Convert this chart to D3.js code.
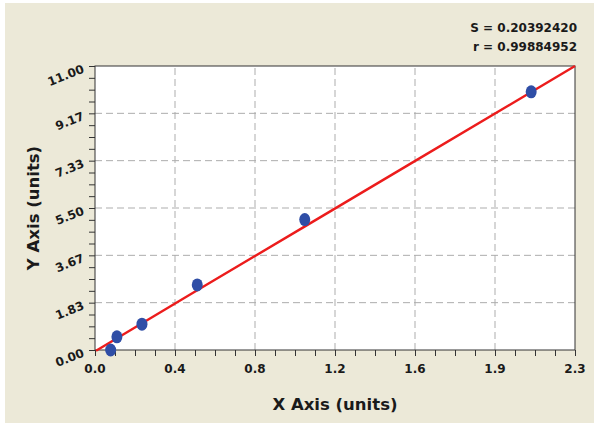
<!DOCTYPE html>
<meta charset="utf-8">
<style>
body { margin: 0; background: #fff; }
svg { display: block; font-family: "DejaVu Sans", sans-serif; }
.tick-lbl { font-weight: bold; font-size: 12px; fill: #1a1a1a; }
.ax-title { font-weight: bold; font-size: 16.5px; fill: #1a1a1a; }
</style>
<body>
<div id="chart"></div>
<script src="https://d3js.org/d3.v7.min.js"></script>
<script>

// measured standards
const xVals = [0.075, 0.105, 0.225, 0.490, 1.005, 2.090];
const yVals = [0.00, 0.51, 1.00, 2.52, 5.05, 10.00];

// fitted curve
const fitX = [0.005, 0.5, 1.0, 1.5, 2.3];
const fitY = [-0.03, 2.36, 4.76, 7.16, 11.0];

const xTickLabels = ["0.0", "0.4", "0.8", "1.2", "1.6", "1.9", "2.3"];
const yTickLabels = ["0.00", "1.83", "3.67", "5.50", "7.33", "9.17", "11.00"];

const statLines = ["S = 0.20392420", "r = 0.99884952"];

const width = 600, height = 426;
const margin = {top: 66, right: 25, bottom: 76, left: 95};
const xMax = 2.3, yMax = 11;

const svg = d3.select("#chart").append("svg")
  .attr("width", width)
  .attr("height", height);

// beige panel
svg.append("rect")
  .attr("x", 5).attr("y", 3)
  .attr("width", 589).attr("height", 420)
  .attr("fill", "#ece9d8");

const x = d3.scaleLinear()
  .domain([0, xMax])
  .range([margin.left, width - margin.right]);

const y = d3.scaleLinear()
  .domain([0, yMax])
  .range([height - margin.bottom, margin.top]);

// plot area
svg.append("rect")
  .attr("x", x(0)).attr("y", y(yMax))
  .attr("width", x(xMax) - x(0))
  .attr("height", y(0) - y(yMax))
  .attr("fill", "#fff");

const xMajor = xTickLabels.map((d, i) => i * xMax / 6);
const yMajor = yTickLabels.map((d, i) => i * yMax / 6);
const xMinor = d3.range(25).map(i => i * xMax / 24);
const yMinor = d3.range(25).map(i => i * yMax / 24);

// grid
svg.append("g")
  .selectAll("line")
  .data(xMajor.slice(1, -1))
  .join("line")
    .attr("x1", d => x(d)).attr("x2", d => x(d))
    .attr("y1", y(0)).attr("y2", y(yMax))
    .attr("stroke", "#adadad")
    .attr("stroke-dasharray", "7,4");

svg.append("g")
  .selectAll("line")
  .data(yMajor.slice(1, -1))
  .join("line")
    .attr("y1", d => y(d)).attr("y2", d => y(d))
    .attr("x1", x(0)).attr("x2", x(xMax))
    .attr("stroke", "#adadad")
    .attr("stroke-dasharray", "7,4");

// axes with minor ticks
svg.append("g")
  .attr("transform", `translate(0,${y(0)})`)
  .call(d3.axisBottom(x).tickValues(xMinor).tickSize(6).tickFormat(""))
  .call(g => g.selectAll("line").attr("stroke", "#333"))
  .call(g => g.select(".domain").remove());

svg.append("g")
  .attr("transform", `translate(${x(0)},0)`)
  .call(d3.axisLeft(y).tickValues(yMinor).tickSize(6).tickFormat(""))
  .call(g => g.selectAll("line").attr("stroke", "#333"))
  .call(g => g.select(".domain").remove());

// x tick labels
svg.append("g")
  .selectAll("text")
  .data(xMajor)
  .join("text")
    .attr("class", "tick-lbl")
    .attr("x", d => x(d))
    .attr("y", y(0) + 23)
    .attr("text-anchor", "middle")
    .text((d, i) => xTickLabels[i]);

// y tick labels, tilted
svg.append("g")
  .selectAll("text")
  .data(yMajor)
  .join("text")
    .attr("class", "tick-lbl")
    .attr("text-anchor", "end")
    .attr("transform", d => `translate(${x(0) - 10},${y(d) + 6}) rotate(-22)`)
    .text((d, i) => yTickLabels[i]);

// border
svg.append("rect")
  .attr("x", x(0)).attr("y", y(yMax))
  .attr("width", x(xMax) - x(0))
  .attr("height", y(0) - y(yMax))
  .attr("fill", "none")
  .attr("stroke", "#333");

// fit line
const line = d3.line()
  .x(d => x(d[0]))
  .y(d => y(d[1]));

svg.append("path")
  .datum(fitX.map((d, i) => [d, fitY[i]]))
  .attr("d", line)
  .attr("fill", "none")
  .attr("stroke", "#ec1c1c")
  .attr("stroke-width", 2.4);

// points
svg.append("g")
  .selectAll("ellipse")
  .data(xVals.map((d, i) => [d, yVals[i]]))
  .join("ellipse")
    .attr("cx", d => x(d[0]))
    .attr("cy", d => y(d[1]))
    .attr("rx", 5.5)
    .attr("ry", 6.5)
    .attr("fill", "#2f4ea6");

// axis titles
svg.append("text")
  .attr("class", "ax-title")
  .attr("x", (x(0) + x(xMax)) / 2)
  .attr("y", 410)
  .attr("text-anchor", "middle")
  .text("X Axis (units)");

svg.append("text")
  .attr("class", "ax-title")
  .attr("transform", `translate(39,${(y(0) + y(yMax)) / 2}) rotate(-90)`)
  .attr("text-anchor", "middle")
  .text("Y Axis (units)");

// stats
svg.append("g")
  .selectAll("text")
  .data(statLines)
  .join("text")
    .attr("class", "tick-lbl")
    .attr("x", 577)
    .attr("y", (d, i) => 32 + i * 19)
    .attr("text-anchor", "end")
    .text(d => d);

</script>
